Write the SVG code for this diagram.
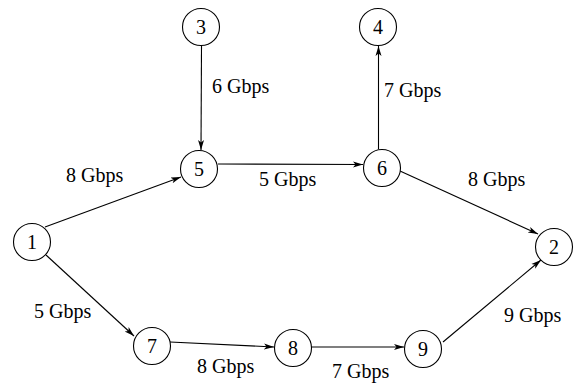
<svg xmlns="http://www.w3.org/2000/svg" width="577" height="384" viewBox="0 0 577 384">
<style>
.n{fill:#fff;stroke:#000;stroke-width:1.1}
text{font-family:'Liberation Serif','Times New Roman',Times,serif;font-size:20px;fill:#000}
.c{text-anchor:middle}
.e{stroke:#000;stroke-width:1.1;fill:none;marker-end:url(#a)}
</style>
<defs>
<marker id="a" markerUnits="userSpaceOnUse" markerWidth="12" markerHeight="8" refX="10" refY="4" orient="auto">
<path d="M0,1 L10,4 L0,7 L2.5,4 z" fill="#000"/>
</marker>
</defs>
<rect width="577" height="384" fill="#fff"/>
<g id="connectors">
<line class="e" x1="201.5" y1="46" x2="201" y2="150"/>
<line class="e" x1="378.5" y1="149" x2="378.5" y2="46"/>
<line class="e" x1="218" y1="164" x2="363" y2="164.5"/>
<line class="e" x1="45" y1="227" x2="181" y2="177"/>
<line class="e" x1="400" y1="171" x2="538" y2="234"/>
<line class="e" x1="46" y1="255" x2="134" y2="336"/>
<line class="e" x1="170" y1="342" x2="274" y2="347"/>
<line class="e" x1="311" y1="347" x2="404" y2="347"/>
<line class="e" x1="443" y1="342" x2="541" y2="260"/>
</g>
<g id="node1"><circle class="n" cx="32" cy="242" r="18.5"/><text class="c" x="32" y="249">1</text></g>
<g id="node2"><circle class="n" cx="554" cy="247" r="18.5"/><text class="c" x="554" y="254">2</text></g>
<g id="node3"><circle class="n" cx="201" cy="27" r="18.5"/><text class="c" x="201" y="34">3</text></g>
<g id="node4"><circle class="n" cx="378" cy="27" r="18.5"/><text class="c" x="378" y="34">4</text></g>
<g id="node5"><circle class="n" cx="199" cy="169" r="18.5"/><text class="c" x="199" y="176">5</text></g>
<g id="node6"><circle class="n" cx="382" cy="168" r="18.5"/><text class="c" x="382" y="175">6</text></g>
<g id="node7"><circle class="n" cx="152" cy="346" r="18.5"/><text class="c" x="152" y="353">7</text></g>
<g id="node8"><circle class="n" cx="293" cy="348" r="18.5"/><text class="c" x="293" y="355">8</text></g>
<g id="node9"><circle class="n" cx="423" cy="349" r="18.5"/><text class="c" x="423" y="356">9</text></g>
<g id="labels">
<text x="212" y="93">6 Gbps</text>
<text x="66" y="182">8 Gbps</text>
<text x="259" y="186">5 Gbps</text>
<text x="384" y="97">7 Gbps</text>
<text x="468" y="186">8 Gbps</text>
<text x="34" y="318">5 Gbps</text>
<text x="197" y="373">8 Gbps</text>
<text x="332" y="378">7 Gbps</text>
<text x="504" y="322">9 Gbps</text>
</g>
</svg>
